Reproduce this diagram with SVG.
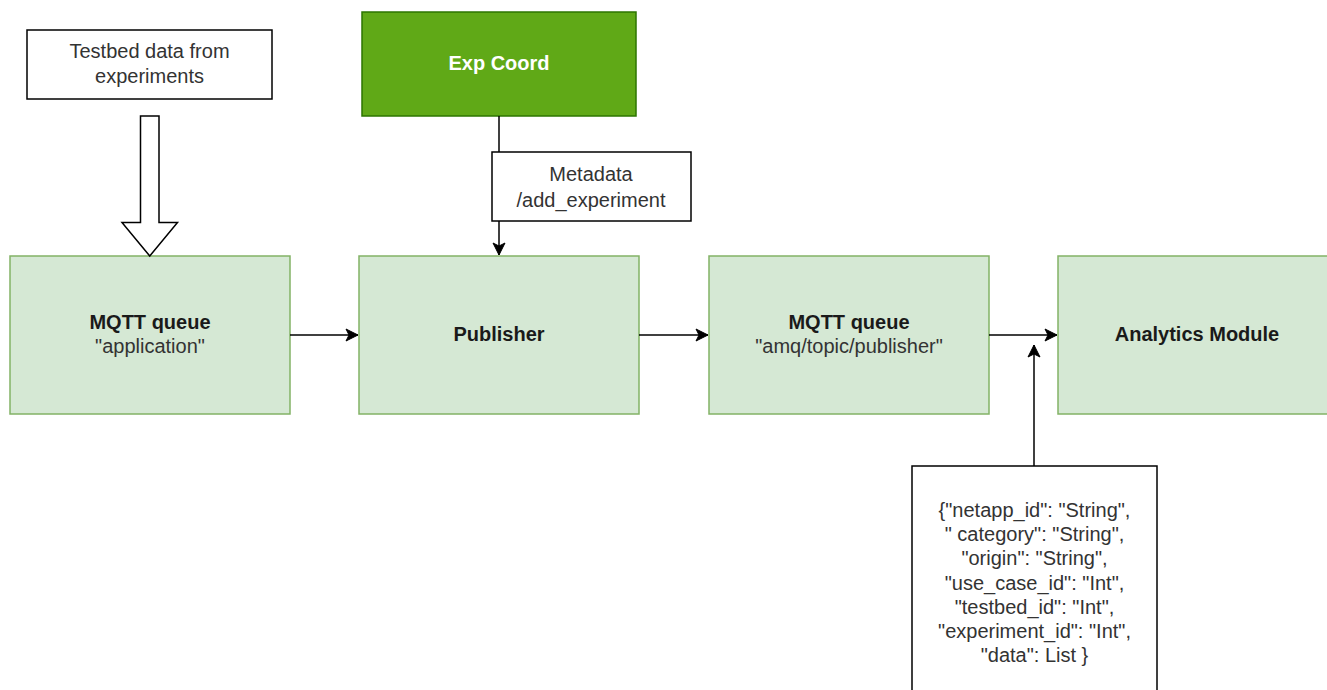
<svg xmlns="http://www.w3.org/2000/svg" width="1327" height="690" viewBox="0 0 1327 690">
<style>
text { font-family: "Liberation Sans", Arial, Helvetica, sans-serif; font-size: 20px; text-anchor: middle; }
.b { font-weight: bold; fill: #1a1a1a; }
.n { fill: #333333; }
.w { font-weight: bold; fill: #ffffff; }
.green { fill: #d5e8d4; stroke: #82b366; stroke-width: 1.5; }
.note { fill: #ffffff; stroke: #000000; stroke-width: 1.5; }
.edge { fill: none; stroke: #000000; stroke-width: 1.5; }
</style>
<defs>
<marker id="arr" markerUnits="userSpaceOnUse" markerWidth="14" markerHeight="14" viewBox="0 0 14 14" refX="13" refY="7" orient="auto">
<path d="M1,1 L13,7 L1,13 L4,7 z" fill="#000000" stroke="#000000" stroke-width="1"/>
</marker>
</defs>
<rect width="1327" height="690" fill="#ffffff"/>

<g id="testbed-data">
<rect class="note" x="27" y="30" width="245" height="69"/>
<text class="n" x="149.5" y="58">Testbed data from</text>
<text class="n" x="149.5" y="83">experiments</text>
</g>

<g id="exp-coord">
<rect x="362" y="12" width="274" height="104" fill="#60a917" stroke="#2d7600" stroke-width="1.5"/>
<text class="w" x="499" y="70">Exp Coord</text>
</g>

<g id="mqtt-application">
<rect class="green" x="10" y="256" width="280" height="158"/>
<text class="b" x="150" y="329">MQTT queue</text>
<text class="n" x="150" y="353">"application"</text>
</g>

<g id="publisher">
<rect class="green" x="359" y="256" width="280" height="158"/>
<text class="b" x="499" y="341">Publisher</text>
</g>

<g id="mqtt-publisher">
<rect class="green" x="709" y="256" width="280" height="158"/>
<text class="b" x="849" y="329">MQTT queue</text>
<text class="n" x="849" y="353">"amq/topic/publisher"</text>
</g>

<g id="analytics-module">
<rect class="green" x="1058" y="256" width="285" height="158"/>
<text class="b" x="1197" y="341">Analytics Module</text>
</g>

<g id="data-schema">
<rect class="note" x="912" y="466" width="245" height="240"/>
<text class="n" x="1034.5" y="517">{"netapp_id": "String",</text>
<text class="n" x="1034.5" y="541">" category": "String",</text>
<text class="n" x="1034.5" y="565">"origin": "String",</text>
<text class="n" x="1034.5" y="590">"use_case_id": "Int",</text>
<text class="n" x="1034.5" y="614">"testbed_id": "Int",</text>
<text class="n" x="1034.5" y="638">"experiment_id": "Int",</text>
<text class="n" x="1034.5" y="662">"data": List }</text>
</g>

<g id="connectors">
<path d="M140.5,116 L159,116 L159,222.5 L177.5,222.5 L149.75,256 L122,222.5 L140.5,222.5 Z" fill="#ffffff" stroke="#000000" stroke-width="1.5" stroke-linejoin="miter"/>
<line class="edge" x1="499" y1="116" x2="499" y2="152"/>
<line class="edge" x1="499" y1="221" x2="499" y2="255" marker-end="url(#arr)"/>
<line class="edge" x1="290" y1="335" x2="358" y2="335" marker-end="url(#arr)"/>
<line class="edge" x1="639" y1="335" x2="708" y2="335" marker-end="url(#arr)"/>
<line class="edge" x1="989" y1="335" x2="1057" y2="335" marker-end="url(#arr)"/>
<line class="edge" x1="1034" y1="466" x2="1034" y2="345" marker-end="url(#arr)"/>
</g>

<g id="metadata-label">
<rect class="note" x="492" y="152" width="199" height="69"/>
<text class="n" x="591" y="181">Metadata</text>
<text class="n" x="591" y="207">/add_experiment</text>
</g>
</svg>
